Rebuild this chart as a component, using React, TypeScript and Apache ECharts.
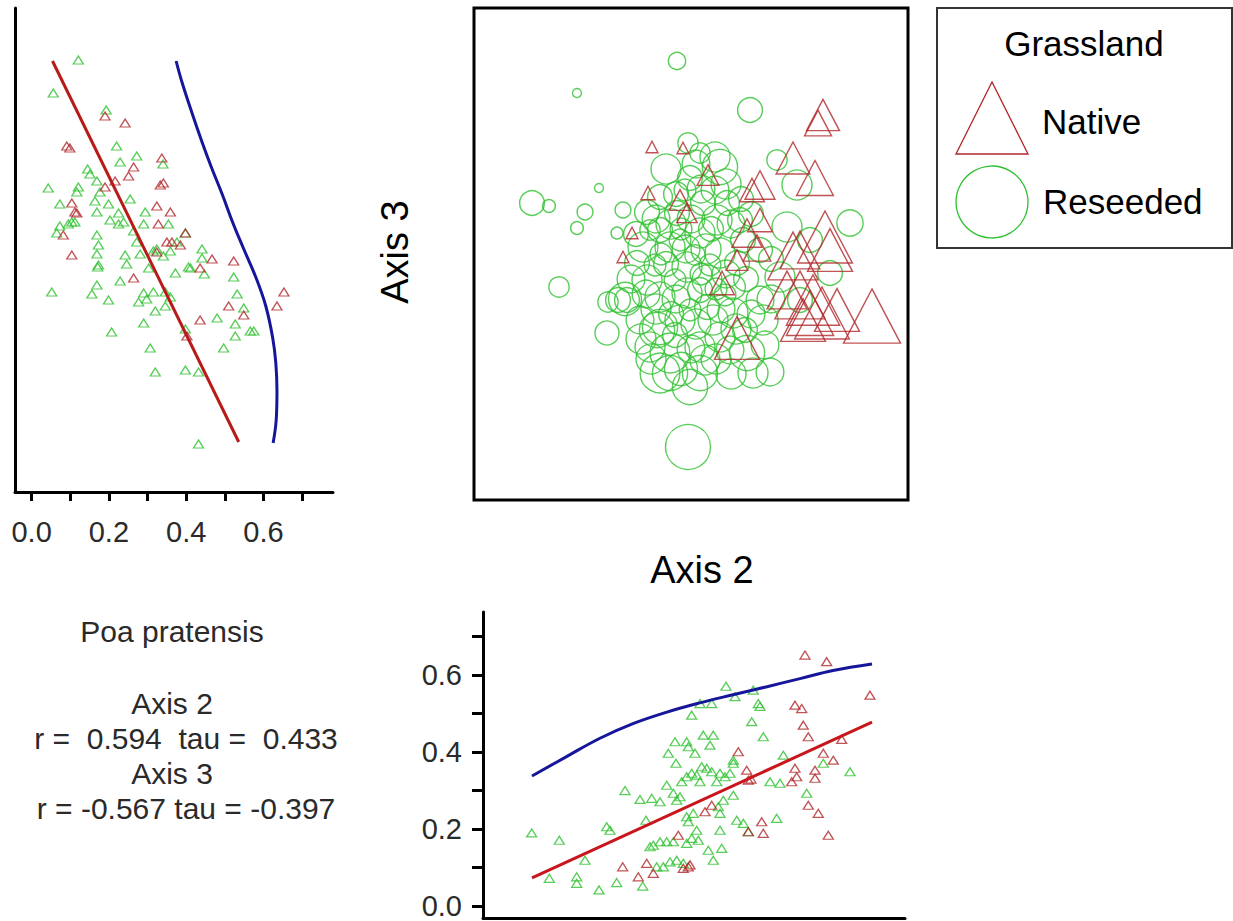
import React, { useEffect, useRef } from "react";
import * as echarts from "echarts";

// ---------- Left panel: Poa pratensis cover (x) vs Axis 3 score (y) ----------
const leftReseeded: [number, number][] = [
  [0.121, 1.9], [0.056, 1.57], [0.193, 1.4], [0.22, 1.04], [0.272, 0.94], [0.229, 0.88], [0.34, 0.86],
  [0.145, 0.81], [0.151, 0.76], [0.043, 0.62], [0.121, 0.63], [0.169, 0.69], [0.177, 0.58], [0.073, 0.46],
  [0.164, 0.49], [0.199, 0.46], [0.255, 0.51], [0.294, 0.38], [0.169, 0.38], [0.225, 0.37], [0.112, 0.28],
  [0.073, 0.24], [0.065, 0.17], [0.095, 0.26], [0.225, 0.26], [0.238, 0.28], [0.29, 0.26], [0.354, 0.26],
  [0.272, 0.08], [0.169, 0.15], [0.173, 0.05], [0.169, -0.04], [0.242, -0.05], [0.246, -0.14], [0.281, -0.04],
  [0.315, -0.01], [0.341, -0.06], [0.359, -0.01], [0.376, 0.08], [0.398, 0.17], [0.441, 0.01], [0.441, -0.08],
  [0.411, -0.18], [0.447, -0.24], [0.372, -0.23], [0.303, -0.18], [0.173, -0.15], [0.171, -0.17], [0.229, -0.31],
  [0.169, -0.35], [0.156, -0.44], [0.052, -0.42], [0.199, -0.5], [0.29, -0.43], [0.315, -0.42], [0.277, -0.52],
  [0.298, -0.49], [0.346, -0.42], [0.359, -0.47], [0.32, -0.61], [0.346, -0.56], [0.29, -0.73], [0.207, -0.82],
  [0.398, -0.79], [0.307, -0.98], [0.32, -1.22], [0.398, -1.2], [0.432, -1.22], [0.48, -0.68], [0.523, -0.27],
  [0.532, -0.44], [0.549, -0.58], [0.527, -0.74], [0.527, -0.86], [0.566, -0.81], [0.575, -0.81], [0.497, -0.98],
  [0.432, -1.94], [0.406, -0.17], [0.203, 0.3], [0.264, 0.19], [0.324, 0.01], [0.117, 0.58], [0.104, 0.28],
];
const leftNative: [number, number][] = [
  [0.19, 1.34], [0.242, 1.27], [0.091, 1.04], [0.099, 1.02], [0.337, 0.92], [0.264, 0.83], [0.251, 0.74],
  [0.216, 0.69], [0.19, 0.63], [0.341, 0.67], [0.333, 0.65], [0.104, 0.47], [0.112, 0.38], [0.117, 0.37],
  [0.324, 0.44], [0.359, 0.38], [0.328, 0.26], [0.082, 0.15], [0.35, 0.08], [0.363, 0.08], [0.385, 0.05],
  [0.398, 0.17], [0.104, -0.05], [0.467, -0.09], [0.523, -0.11], [0.264, -0.28], [0.436, -0.18], [0.653, -0.42],
  [0.635, -0.56], [0.51, -0.56], [0.549, -0.65], [0.436, -0.7], [0.402, -0.86], [0.324, -0.02],
];
const leftLinear: [number, number][] = [[0.054, 1.89], [0.536, -1.92]];
const leftEnvelope: [number, number][] = [
  [0.374, 1.89], [0.389, 1.68], [0.416, 1.36], [0.441, 1.08], [0.465, 0.83], [0.493, 0.56], [0.522, 0.26],
  [0.549, 0.01], [0.58, -0.27], [0.606, -0.56], [0.624, -0.88], [0.632, -1.13], [0.635, -1.41], [0.633, -1.7],
  [0.625, -1.93],
];

// ---------- Main ordination: [Axis 2, Axis 3, Poa cover] ----------
const mainReseeded: [number, number, number][] = [
  [-0.14, 1.93, 0.15], [-1.14, 1.61, 0.04], [0.59, 1.44, 0.25], [-1.59, 0.51, 0.25], [-1.42, 0.48, 0.09],
  [-0.92, 0.66, 0.04], [-1.06, 0.42, 0.13], [-1.14, 0.26, 0.09], [-0.74, 0.21, 0.08], [-0.68, 0.44, 0.13],
  [-1.32, -0.33, 0.19], [-0.84, -0.79, 0.24], [-0.83, -0.48, 0.19], [-0.73, -0.46, 0.25], [-0.66, -0.45, 0.36],
  [-0.03, -1.93, 0.52], [0.79, -1.18, 0.29], [1.59, 0.31, 0.27], [0.86, 0.94, 0.19], [1.06, 0.69, 0.32],
  [-0.03, 1.11, 0.19], [0.24, 0.97, 0.32], [0.29, 0.87, 0.39],
  [-0.01, 0.76, 0.25], [-0.31, 0.57, 0.25], [-0.44, 0.42, 0.25], [-0.48, 0.07, 0.32], [-0.54, -0.09, 0.25],
  [-0.44, -0.26, 0.32], [-0.31, -0.43, 0.32], [-0.64, -0.46, 0.25], [-0.31, -0.73, 0.39], [-0.21, -0.99, 0.45],
  [-0.21, -1.19, 0.39], [0.09, -1.19, 0.39], [0.09, -0.93, 0.32], [0.22, -0.66, 0.32], [0.42, -0.59, 0.32],
  [0.56, -0.99, 0.39], [0.42, -0.33, 0.25], [0.16, -0.26, 0.32], [-0.04, -0.13, 0.32], [-0.21, 0.07, 0.32],
  [0.09, 0.21, 0.32], [0.26, 0.34, 0.32], [0.36, 0.51, 0.25], [0.12, 0.51, 0.25], [-0.14, 0.41, 0.25],
  [-0.31, 0.24, 0.25], [0.29, 0.01, 0.32], [0.46, -0.09, 0.25], [0.52, 0.14, 0.25], [-0.04, -0.39, 0.32],
  [0.16, -0.53, 0.25], [-0.11, -0.66, 0.32], [0.29, -0.83, 0.32], [-0.41, -0.93, 0.32], [-0.31, -1.19, 0.45],
  [0.62, -1.19, 0.32], [-0.34, -0.76, 0.39], [-0.01, -1.33, 0.39], [0.72, -0.66, 0.32], [0.96, 0.27, 0.32],
  [0.89, -0.23, 0.32], [1.39, -0.19, 0.25], [0.09, 1.01, 0.19], [-0.11, 0.14, 0.21], [0.04, -0.01, 0.19],
  [0.19, -0.11, 0.21], [-0.16, -0.26, 0.21], [-0.01, -0.56, 0.21], [0.34, -0.41, 0.21], [-0.36, -0.11, 0.21],
  [0.24, 0.64, 0.29], [0.49, 0.34, 0.25], [0.69, -0.46, 0.29], [0.69, 0.04, 0.25], [-0.51, -0.66, 0.29],
  [-0.16, -0.81, 0.25], [0.14, -1.06, 0.32], [0.39, -0.96, 0.29], [0.54, -0.76, 0.25], [0.74, -0.91, 0.29],
  [1.09, -0.46, 0.25], [1.19, 0.14, 0.25], [-0.41, 0.24, 0.19], [0.09, -0.36, 0.25], [-0.06, 0.64, 0.21],
  [-0.25, 0.85, 0.32], [0.05, 0.9, 0.29], [0.35, 0.7, 0.32], [-0.35, 0.35, 0.29], [-0.2, 0.3, 0.32],
  [0.0, 0.35, 0.29], [0.2, 0.25, 0.25], [0.4, 0.3, 0.29], [0.6, 0.4, 0.25], [-0.45, -0.4, 0.29],
  [-0.25, -0.1, 0.25], [-0.05, 0.05, 0.29], [0.15, 0.05, 0.32], [0.35, -0.2, 0.29], [0.55, -0.25, 0.25],
  [-0.35, -0.55, 0.32], [-0.15, -0.45, 0.29], [0.05, -0.7, 0.32], [0.3, -0.55, 0.29], [0.45, -0.75, 0.32],
  [-0.5, -0.85, 0.32], [-0.2, -0.6, 0.25], [0.0, -0.95, 0.29], [0.25, -1.05, 0.32], [-0.1, -1.15, 0.36],
  [0.4, -1.2, 0.32], [-0.4, -1.05, 0.32], [0.6, -0.6, 0.29], [0.8, -0.45, 0.29], [0.8, -0.05, 0.25],
  [-0.1, 0.25, 0.21], [0.1, -0.2, 0.21], [-0.3, 0.0, 0.21], [0.25, -0.35, 0.21], [0.5, 0.55, 0.25],
  [-0.15, 0.6, 0.25], [0.1, 0.65, 0.29], [-0.55, 0.2, 0.25], [-0.6, -0.25, 0.29],
];
const mainNative: [number, number, number][] = [
  [-0.39, 1.07, 0.08], [-0.08, 1.06, 0.08], [-0.43, 0.61, 0.11], [-0.59, 0.21, 0.08], [-0.68, -0.03, 0.08],
  [0.17, 0.79, 0.21], [-0.11, 0.54, 0.21], [-0.04, 0.41, 0.19], [1.32, 1.39, 0.36], [1.27, 1.31, 0.28],
  [1.02, 0.96, 0.37], [1.24, 0.76, 0.41], [0.69, 0.69, 0.32], [0.61, 0.64, 0.25], [0.56, 0.21, 0.32],
  [0.46, -0.06, 0.21], [0.31, -0.29, 0.25], [1.34, 0.17, 0.65], [1.09, 0.04, 0.45], [1.02, -0.02, 0.59],
  [1.39, 0.04, 0.52], [1.22, -0.46, 0.63], [1.09, -0.41, 0.59], [1.81, -0.62, 0.68], [1.31, -0.59, 0.65],
  [1.19, -0.59, 0.55], [1.46, -0.56, 0.52], [1.12, -0.66, 0.52], [0.46, -0.84, 0.52], [0.96, -0.36, 0.45],
  [0.69, 0.34, 0.25], [0.66, 0.06, 0.29],
];

// ---------- Bottom panel: Axis 2 score (x) vs Poa cover (y) ----------
const bottomReseeded: [number, number][] = [
  [-1.593, 0.19], [-1.317, 0.171], [-1.417, 0.072], [-1.143, 0.076], [-1.143, 0.059], [-1.06, 0.119],
  [-0.92, 0.042], [-0.743, 0.061], [-0.483, 0.052], [-0.843, 0.206], [-0.81, 0.197], [-0.66, 0.3],
  [-0.51, 0.277], [-0.393, 0.28], [-0.31, 0.271], [-0.45, 0.223], [-0.243, 0.314], [-0.177, 0.293],
  [-0.143, 0.275], [-0.11, 0.284], [-0.093, 0.323], [-0.043, 0.336], [0.007, 0.345], [0.057, 0.34],
  [0.107, 0.362], [0.157, 0.358], [0.207, 0.349], [0.257, 0.323], [0.29, 0.345], [0.34, 0.336], [0.39, 0.345],
  [0.423, 0.371], [0.09, 0.323], [-0.043, 0.232], [-0.027, 0.219], [0.023, 0.241], [0.057, 0.197],
  [0.073, 0.171], [0.007, 0.176], [-0.043, 0.163], [-0.177, 0.167], [-0.243, 0.167], [-0.31, 0.167],
  [-0.377, 0.158], [-0.41, 0.154], [-0.343, 0.102], [-0.277, 0.102], [-0.21, 0.115], [-0.143, 0.119],
  [-0.077, 0.111], [0.173, 0.145], [0.223, 0.119], [0.307, 0.15], [0.29, 0.197], [0.29, 0.241], [0.273, 0.258],
  [0.323, 0.275], [0.423, 0.288], [0.457, 0.223], [0.523, 0.215], [0.573, 0.193], [0.423, 0.379],
  [0.857, 0.228], [0.79, 0.323], [0.89, 0.319], [0.923, 0.392], [1.157, 0.293], [1.323, 0.371], [1.59, 0.349],
  [-0.16, 0.427], [-0.043, 0.427], [-0.027, 0.414], [0.04, 0.397], [-0.227, 0.397], [-0.15, 0.371],
  [0.123, 0.444], [0.223, 0.444], [0.19, 0.418], [0.007, 0.496], [0.09, 0.526], [0.207, 0.526], [0.35, 0.571],
  [0.44, 0.544], [0.607, 0.479], [0.673, 0.526], [0.69, 0.519], [0.723, 0.44], [0.623, 0.561],
];
const bottomNative: [number, number][] = [
  [-0.683, 0.102], [-0.443, 0.111], [-0.527, 0.076], [-0.377, 0.085], [-0.127, 0.184], [-0.077, 0.098],
  [-0.027, 0.102], [-0.01, 0.107], [0.14, 0.245], [0.207, 0.262], [0.473, 0.401], [0.557, 0.353],
  [0.573, 0.327], [0.6, 0.33], [0.707, 0.219], [0.723, 0.189], [0.573, 0.193], [1.04, 0.358], [1.057, 0.336],
  [1.04, 0.522], [1.107, 0.513], [1.123, 0.47], [1.173, 0.44], [1.14, 0.652], [1.357, 0.635], [1.79, 0.548],
  [1.507, 0.433], [1.323, 0.397], [1.423, 0.379], [1.24, 0.353], [1.24, 0.332], [1.173, 0.262], [1.273, 0.241],
  [1.373, 0.184], [1.007, 0.323],
];
const bottomLinear: [number, number][] = [[-1.59, 0.073], [1.81, 0.478]];
const bottomEnvelope: [number, number][] = [
  [-1.59, 0.338], [-1.24, 0.389], [-0.91, 0.436], [-0.58, 0.474], [-0.24, 0.504], [0.09, 0.528],
  [0.42, 0.549], [0.76, 0.57], [1.09, 0.591], [1.42, 0.612], [1.81, 0.629],
];

const coverTicks = [0, 0.1, 0.2, 0.3, 0.4, 0.5, 0.6, 0.7];
const coverLabels = [0, 0.2, 0.4, 0.6];

const speciesName = "Poa pratensis";
const statLines = ["Axis 2", "r =  0.594  tau =  0.433", "Axis 3", "r = -0.567 tau = -0.397"];
const legendTitle = "Grassland";
const legendNames = ["Native", "Reseeded"];

const FONT = '"Liberation Sans", Arial, sans-serif';
const GREEN = "#30c030";
const RED = "#b0282c";
const LINE_RED = "#c8161c";
const BLUE = "#16169a";

export default function App() {
  const ref = useRef<HTMLDivElement>(null);

  useEffect(() => {
    document.body.style.margin = "0";
    if (!ref.current) return;
    const chart = echarts.init(ref.current, undefined, { renderer: "svg" });

    const axisLine = { show: true, onZero: false, lineStyle: { color: "#000", width: 3 } };
    const labelStyle = { fontSize: 29, color: "#2a2a2a", fontFamily: FONT };
    const smallTri = [10, 8];
    const hollow = (c: string, w = 1.3) => ({ color: "rgba(0,0,0,0)", borderColor: c, borderWidth: w });
    const bubble = (v: number[]) => 6 + 75 * v[2];

    chart.setOption({
      animation: false,
      backgroundColor: "#fff",
      grid: [
        { left: 15, top: 8, width: 318, height: 484 },
        { left: 474, top: 8, width: 434, height: 492, show: true, borderColor: "#000", borderWidth: 3, backgroundColor: "transparent" },
        { left: 483, top: 612, width: 422, height: 306 },
      ],
      xAxis: [
        {
          type: "value", gridIndex: 0, min: -0.043, max: 0.78,
          axisLine,
          axisTick: { show: true, customValues: coverTicks, length: 9, lineStyle: { color: "#000", width: 3 } },
          axisLabel: { show: true, customValues: coverLabels, formatter: (v: number) => v.toFixed(1), margin: 25, ...labelStyle },
          splitLine: { show: false },
        },
        { type: "value", gridIndex: 1, min: -2.17, max: 2.17, show: false },
        {
          type: "value", gridIndex: 2, min: -2.08, max: 2.14,
          axisLine, axisTick: { show: false }, axisLabel: { show: false }, splitLine: { show: false },
        },
      ],
      yAxis: [
        {
          type: "value", gridIndex: 0, min: -2.42, max: 2.42,
          axisLine, axisTick: { show: false }, axisLabel: { show: false }, splitLine: { show: false },
        },
        { type: "value", gridIndex: 1, min: -2.46, max: 2.46, show: false },
        {
          type: "value", gridIndex: 2, min: -0.031, max: 0.764,
          axisLine,
          axisTick: { show: true, customValues: coverTicks, length: 11, lineStyle: { color: "#000", width: 3 } },
          axisLabel: { show: true, customValues: coverLabels, formatter: (v: number) => v.toFixed(1), margin: 21, ...labelStyle },
          splitLine: { show: false },
        },
      ],
      series: [
        // left panel
        { type: "scatter", xAxisIndex: 0, yAxisIndex: 0, data: leftReseeded, symbol: "triangle", symbolSize: smallTri, itemStyle: hollow(GREEN) },
        { type: "scatter", xAxisIndex: 0, yAxisIndex: 0, data: leftNative, symbol: "triangle", symbolSize: smallTri, itemStyle: hollow(RED) },
        { type: "line", xAxisIndex: 0, yAxisIndex: 0, data: leftLinear, showSymbol: false, lineStyle: { color: "#b81a1a", width: 3 } },
        { type: "line", xAxisIndex: 0, yAxisIndex: 0, data: leftEnvelope, showSymbol: false, smooth: 0.4, lineStyle: { color: BLUE, width: 3 } },
        // main panel
        { type: "scatter", xAxisIndex: 1, yAxisIndex: 1, data: mainReseeded, symbol: "circle", symbolSize: bubble, itemStyle: hollow(GREEN, 1.4) },
        {
          type: "scatter", xAxisIndex: 1, yAxisIndex: 1, data: mainNative, symbol: "triangle",
          symbolSize: (v: number[]) => { const s = bubble(v); return [s, s * 0.95]; },
          itemStyle: hollow(RED, 1.4),
        },
        // bottom panel
        { type: "scatter", xAxisIndex: 2, yAxisIndex: 2, data: bottomReseeded, symbol: "triangle", symbolSize: smallTri, itemStyle: hollow(GREEN) },
        { type: "scatter", xAxisIndex: 2, yAxisIndex: 2, data: bottomNative, symbol: "triangle", symbolSize: smallTri, itemStyle: hollow(RED) },
        { type: "line", xAxisIndex: 2, yAxisIndex: 2, data: bottomLinear, showSymbol: false, lineStyle: { color: LINE_RED, width: 3 } },
        { type: "line", xAxisIndex: 2, yAxisIndex: 2, data: bottomEnvelope, showSymbol: false, smooth: 0.4, lineStyle: { color: BLUE, width: 3 } },
      ],
      graphic: [
        // axis titles of the ordination
        { type: "text", x: 702, y: 570, style: { text: "Axis 2", font: `38px ${FONT}`, fill: "#000", textAlign: "center", textVerticalAlign: "middle" } },
        { type: "text", x: 395, y: 252, rotation: Math.PI / 2, style: { text: "Axis 3", font: `38px ${FONT}`, fill: "#000", textAlign: "center", textVerticalAlign: "middle" } },
        // legend
        { type: "rect", shape: { x: 937, y: 8, width: 295, height: 240 }, style: { fill: "#fff", stroke: "#333", lineWidth: 2 } },
        { type: "text", x: 1084, y: 43, style: { text: legendTitle, font: `35px ${FONT}`, fill: "#000", textAlign: "center", textVerticalAlign: "middle" } },
        { type: "polygon", shape: { points: [[956, 154], [992, 82], [1028, 154]] }, style: { fill: "none", stroke: RED, lineWidth: 1.3 } },
        { type: "text", x: 1042, y: 121, style: { text: legendNames[0], font: `35px ${FONT}`, fill: "#000", textAlign: "left", textVerticalAlign: "middle" } },
        { type: "circle", shape: { cx: 992, cy: 202, r: 36 }, style: { fill: "none", stroke: GREEN, lineWidth: 1.3 } },
        { type: "text", x: 1043, y: 201, style: { text: legendNames[1], font: `35px ${FONT}`, fill: "#000", textAlign: "left", textVerticalAlign: "middle" } },
        // statistics text
        { type: "text", x: 172, y: 631, style: { text: speciesName, font: `30px ${FONT}`, fill: "#2a2a2a", textAlign: "center", textVerticalAlign: "middle" } },
        { type: "text", x: 172, y: 703, style: { text: statLines[0], font: `30px ${FONT}`, fill: "#2a2a2a", textAlign: "center", textVerticalAlign: "middle" } },
        { type: "text", x: 186, y: 738, style: { text: statLines[1], font: `30px ${FONT}`, fill: "#2a2a2a", textAlign: "center", textVerticalAlign: "middle" } },
        { type: "text", x: 172, y: 773, style: { text: statLines[2], font: `30px ${FONT}`, fill: "#2a2a2a", textAlign: "center", textVerticalAlign: "middle" } },
        { type: "text", x: 186, y: 808, style: { text: statLines[3], font: `30px ${FONT}`, fill: "#2a2a2a", textAlign: "center", textVerticalAlign: "middle" } },
      ],
    });

    return () => chart.dispose();
  }, []);

  return <div ref={ref} style={{ width: 1233, height: 921 }} />;
}
